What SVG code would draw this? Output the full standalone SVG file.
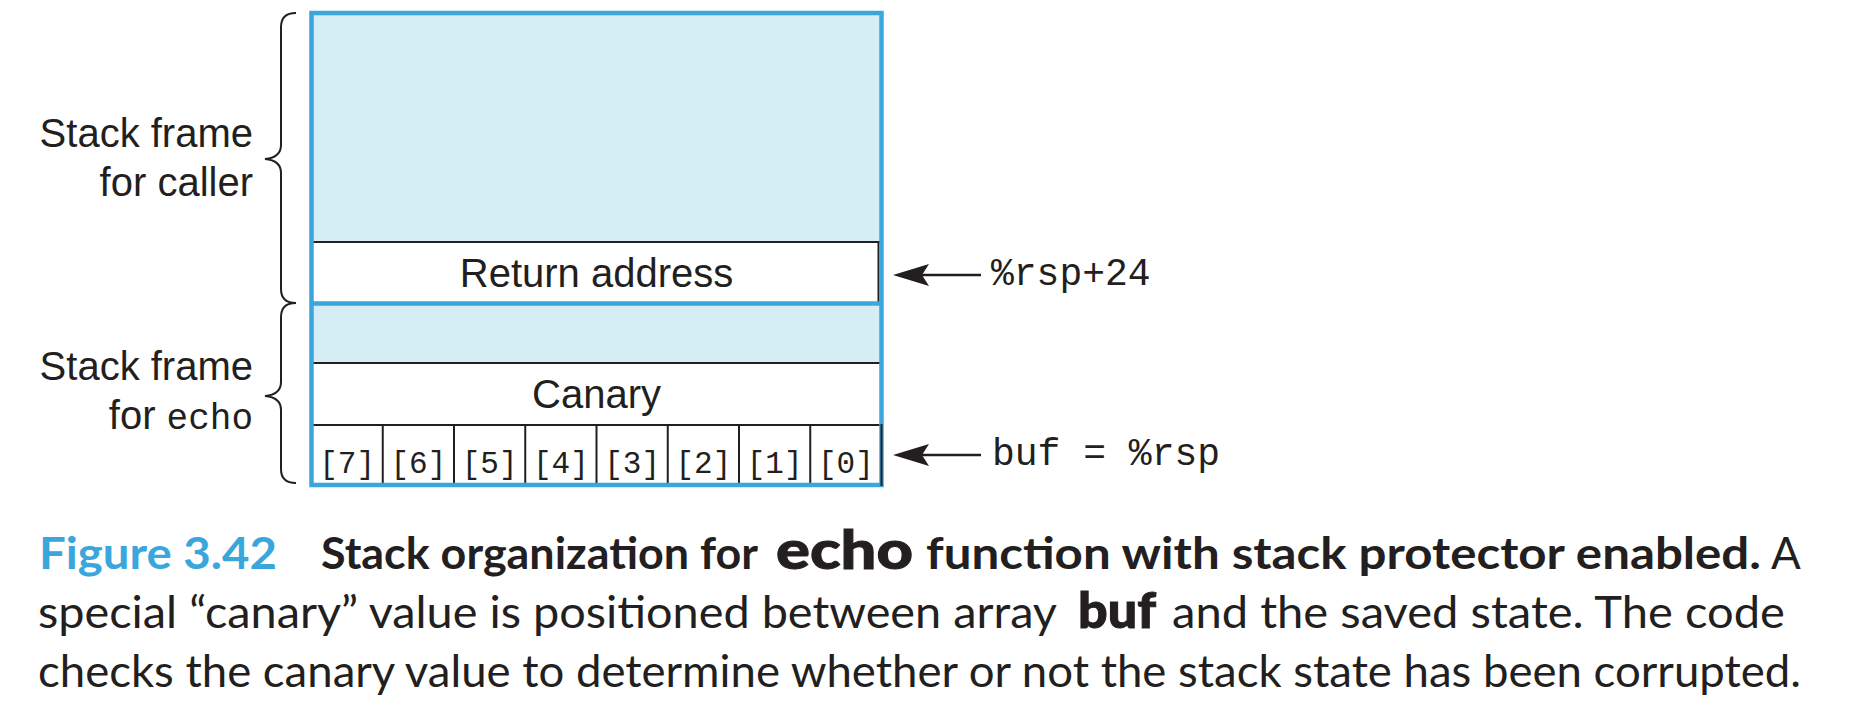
<svg xmlns="http://www.w3.org/2000/svg" width="1862" height="726" viewBox="0 0 1862 726">
<defs>
<style>
.lbl{font-family:"Liberation Sans",Arial,sans-serif;font-size:40px;fill:#231f20}
.mono{font-family:"Liberation Mono","Courier New",monospace;fill:#231f20}
.cell{font-family:"Liberation Mono","Courier New",monospace;font-size:31px;fill:#231f20;text-anchor:middle}
.cap{font-family:Lato,"Open Sans",sans-serif;font-size:44px;fill:#231f20}
.heavy{font-weight:900;stroke:#231f20;stroke-width:1}
.sep{stroke:#231f20;stroke-width:2;fill:none}
.frame{fill:none;stroke:#3aa6dc;stroke-width:4.5}
.lite{fill:#d5edf4}
.white{fill:#ffffff}
.brace{fill:none;stroke:#231f20;stroke-width:2}
.arrow{stroke:#231f20;stroke-width:2.5;fill:none;marker-end:url(#head)}
</style>
<marker id="head" viewBox="0 -11 36 22" refX="20" refY="0" markerWidth="36" markerHeight="22" markerUnits="userSpaceOnUse" orient="auto">
<path d="M0,-11 L36,0 L0,11 L7,0 Z" fill="#231f20"/>
</marker>
</defs>
<rect width="1862" height="726" fill="#ffffff"/>

<g id="caller-frame">
<rect class="lite" x="311.5" y="13" width="570" height="229"/>
<text class="lbl" x="253" y="147" text-anchor="end">Stack frame</text>
<text class="lbl" x="253" y="196" text-anchor="end">for caller</text>
<path class="brace" d="M296,13 C286,13 281,17 281,27 L281,145 C281,153 276,158 265,159 C276,160 281,165 281,173 L281,289 C281,299 286,303 296,303"/>
</g>

<g id="return-address">
<rect class="white" x="311.5" y="242" width="570" height="61.5"/>
<line class="sep" x1="313" y1="242" x2="880" y2="242"/>
<line class="sep" x1="878.5" y1="242" x2="878.5" y2="302"/>
<text class="lbl" x="596.5" y="287" text-anchor="middle">Return address</text>
</g>

<g id="echo-frame">
<rect class="lite" x="311.5" y="303.5" width="570" height="59.5"/>
<text class="lbl" x="253" y="380" text-anchor="end">Stack frame</text>
<text class="lbl" x="253" y="429" text-anchor="end">for <tspan class="mono" style="font-size:36px">echo</tspan></text>
<path class="brace" d="M296,303 C286,303 281,307 281,317 L281,382 C281,390 276,395 265,396 C276,397 281,402 281,410 L281,469 C281,479 286,483 296,483"/>
</g>

<g id="canary">
<rect class="white" x="311.5" y="363" width="570" height="62"/>
<line class="sep" x1="313" y1="363" x2="880" y2="363"/>
<text class="lbl" x="596.5" y="408" text-anchor="middle">Canary</text>
</g>

<g id="buf">
<rect class="white" x="311.5" y="425" width="570" height="60"/>
<line class="sep" x1="313" y1="425" x2="880" y2="425"/>
<path class="sep" d="M382.75,425V485M454,425V485M525.25,425V485M596.5,425V485M667.75,425V485M739,425V485M810.25,425V485"/>
<text class="cell" x="347.1" y="473">[7]</text>
<text class="cell" x="418.4" y="473">[6]</text>
<text class="cell" x="489.6" y="473">[5]</text>
<text class="cell" x="560.9" y="473">[4]</text>
<text class="cell" x="632.1" y="473">[3]</text>
<text class="cell" x="703.4" y="473">[2]</text>
<text class="cell" x="774.6" y="473">[1]</text>
<text class="cell" x="845.9" y="473">[0]</text>
</g>

<g id="outline">
<rect class="frame" x="311.5" y="13" width="570" height="472"/>
<line class="frame" x1="311.5" y1="303.5" x2="881.5" y2="303.5"/>
<line class="sep" x1="881.5" y1="424" x2="881.5" y2="486"/>
</g>

<g id="connectors">
<line class="arrow" x1="981" y1="275" x2="909" y2="275"/>
<line class="arrow" x1="981" y1="455" x2="909" y2="455"/>
</g>

<g id="pointer-labels">
<text class="mono" style="font-size:38px" x="991" y="285">%rsp+24</text>
<text class="mono" style="font-size:38px" x="992" y="465">buf = %rsp</text>
</g>

<g id="caption">
<text class="cap" x="39" y="569" style="fill:#3aa6dc;font-weight:700" textLength="238" lengthAdjust="spacingAndGlyphs">Figure 3.42</text>
<text class="cap" x="321" y="569" style="font-weight:700" textLength="437" lengthAdjust="spacingAndGlyphs">Stack organization for</text>
<text class="cap heavy" x="776" y="569" style="font-size:54px" textLength="137" lengthAdjust="spacingAndGlyphs">echo</text>
<text class="cap" x="926" y="569" style="font-weight:700" textLength="835" lengthAdjust="spacingAndGlyphs">function with stack protector enabled.</text>
<text class="cap" x="1771" y="569">A</text>
<text class="cap" x="38" y="628" textLength="1019" lengthAdjust="spacingAndGlyphs">special “canary” value is positioned between array</text>
<text class="cap heavy" x="1078" y="628" style="font-size:50px" textLength="78" lengthAdjust="spacingAndGlyphs">buf</text>
<text class="cap" x="1172" y="628" textLength="613" lengthAdjust="spacingAndGlyphs">and the saved state. The code</text>
<text class="cap" x="38" y="687" textLength="1763" lengthAdjust="spacingAndGlyphs">checks the canary value to determine whether or not the stack state has been corrupted.</text>
</g>
</svg>
